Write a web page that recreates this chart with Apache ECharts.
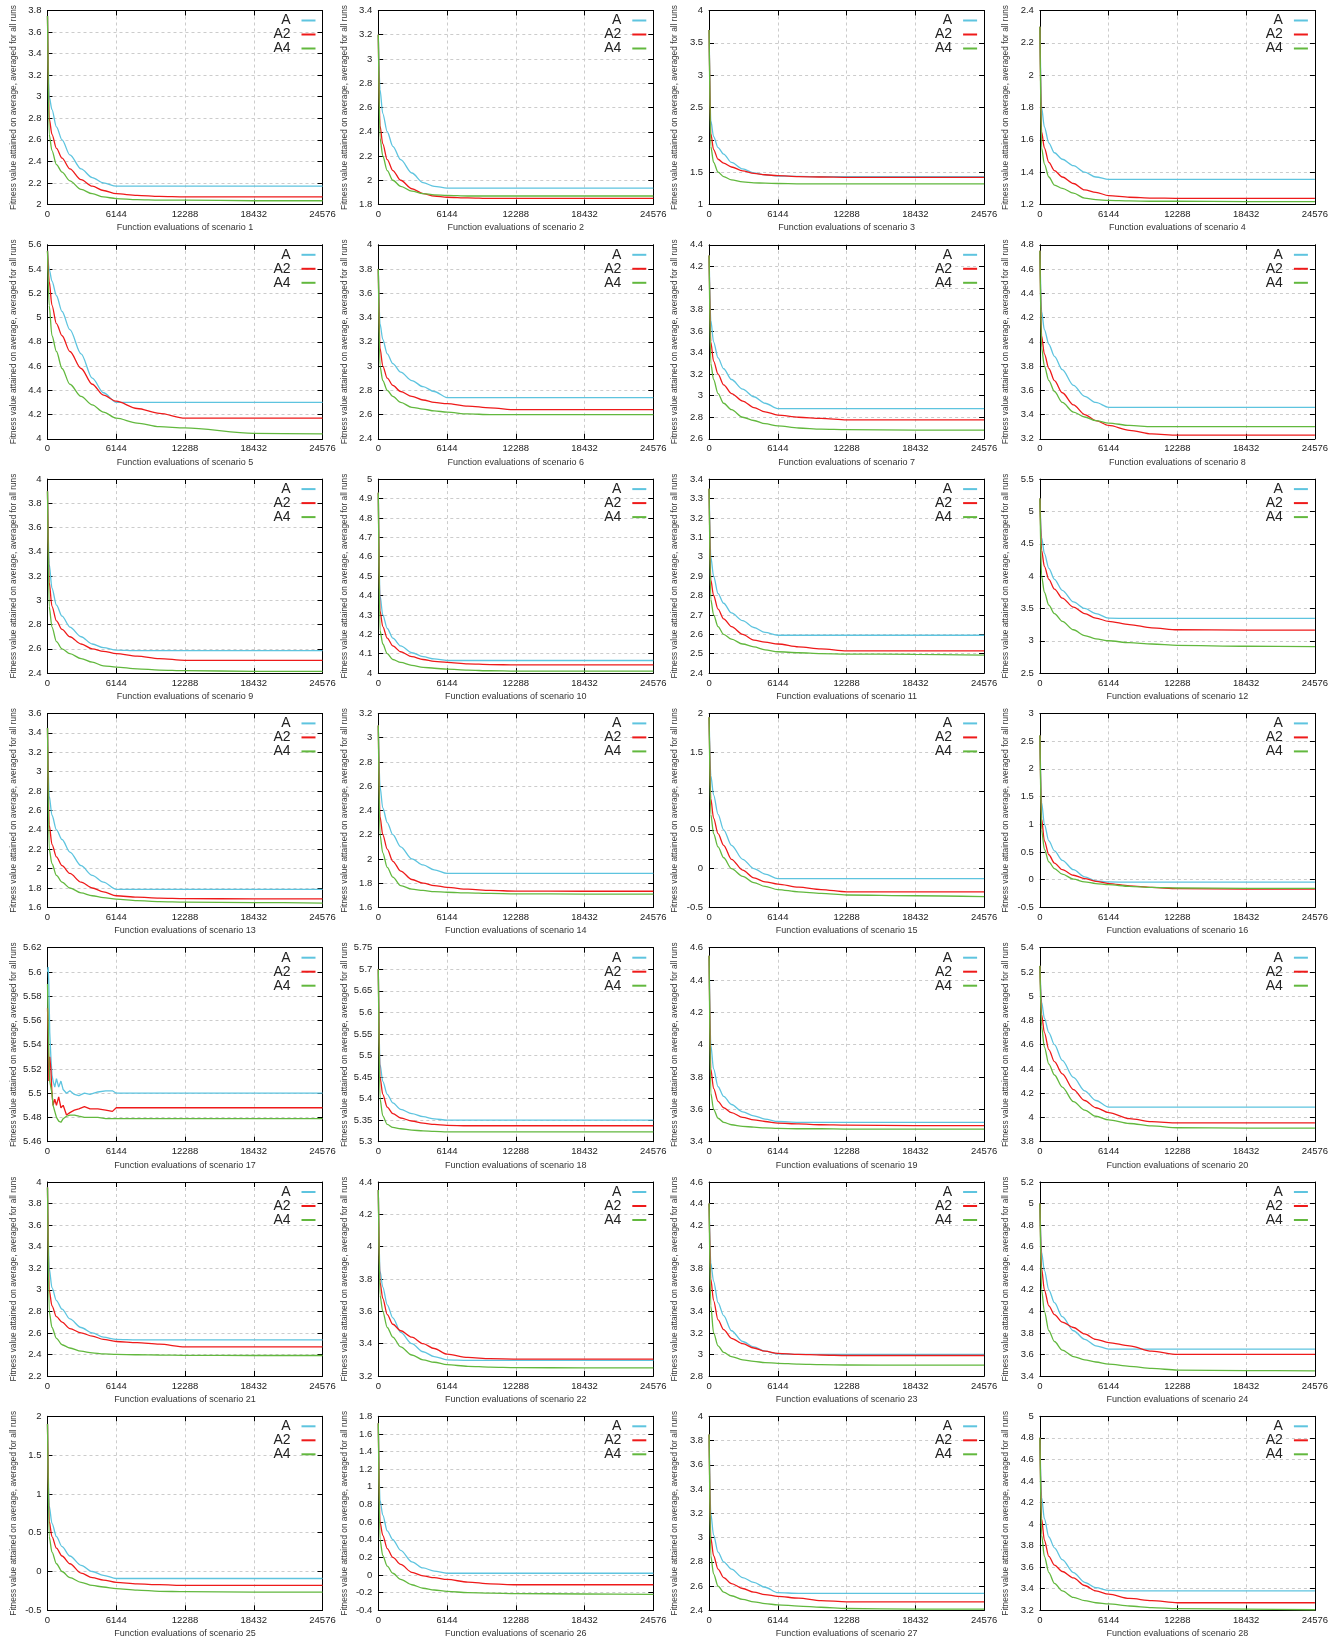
<!DOCTYPE html>
<html>
<head>
<meta charset="utf-8">
<script src="https://cdn.jsdelivr.net/npm/echarts@6/dist/echarts.min.js"></script>
<style>
  html, body { margin: 0; background: #fff; }
  #main { width: 1343px; height: 1640px; }
</style>
</head>
<body>
<div id="main"></div>
<script>
const evals = [0, 150, 400, 800, 1300, 2000, 3000, 4000, 5000, 6144, 8000, 10000, 12288, 18432, 24576];
// scenario 17 is noisy, read more densely
const evals17 = [0, 60, 120, 200, 300, 400, 500, 650, 800, 1000, 1200, 1400, 1700, 2000, 2400, 2800, 3300, 3800, 4500, 5200, 5800, 6144, 8000, 12288, 18432, 24576];

const xTicks = [0, 24576, 6144];

// y axis [min, max, interval] per scenario
const yTicks = [
  [2, 3.8, 0.2], [1.8, 3.4, 0.2], [1, 4, 0.5], [1.2, 2.4, 0.2],
  [4, 5.6, 0.2], [2.4, 4, 0.2], [2.6, 4.4, 0.2], [3.2, 4.8, 0.2],
  [2.4, 4, 0.2], [4, 5, 0.1], [2.4, 3.4, 0.1], [2.5, 5.5, 0.5],
  [1.6, 3.6, 0.2], [1.6, 3.2, 0.2], [-0.5, 2, 0.5], [-0.5, 3, 0.5],
  [5.46, 5.62, 0.02], [5.3, 5.75, 0.05], [3.4, 4.6, 0.2], [3.8, 5.4, 0.2],
  [2.2, 4, 0.2], [3.2, 4.4, 0.2], [2.8, 4.6, 0.2], [3.4, 5.2, 0.2],
  [-0.5, 2, 0.5], [-0.4, 1.8, 0.2], [2.4, 4, 0.2], [3.2, 5, 0.2]
];

const seriesNames = ['A', 'A2', 'A4'];

const valA = [
  [3.75, 3.0, 2.88, 2.72, 2.6, 2.46, 2.33, 2.25, 2.2, 2.17, 2.17, 2.17, 2.17, 2.17, 2.17],
  [3.2, 2.75, 2.55, 2.4, 2.28, 2.17, 2.06, 1.98, 1.95, 1.935, 1.935, 1.935, 1.935, 1.935, 1.935],
  [3.7, 2.3, 2.05, 1.88, 1.78, 1.65, 1.55, 1.49, 1.46, 1.44, 1.435, 1.43, 1.43, 1.43, 1.43],
  [2.3, 1.8, 1.68, 1.58, 1.52, 1.48, 1.44, 1.4, 1.37, 1.355, 1.355, 1.355, 1.355, 1.355, 1.355],
  [5.55, 5.4, 5.3, 5.18, 5.05, 4.9, 4.7, 4.5, 4.38, 4.3, 4.3, 4.3, 4.3, 4.3, 4.3],
  [3.8, 3.35, 3.22, 3.1, 3.02, 2.95, 2.88, 2.83, 2.79, 2.74, 2.74, 2.74, 2.74, 2.74, 2.74],
  [4.3, 3.7, 3.5, 3.35, 3.25, 3.15, 3.06, 2.99, 2.93, 2.88, 2.88, 2.88, 2.88, 2.88, 2.88],
  [4.75, 4.25, 4.1, 3.98, 3.88, 3.77, 3.64, 3.55, 3.5, 3.46, 3.46, 3.46, 3.46, 3.46, 3.46],
  [3.9, 3.3, 3.1, 2.96, 2.87, 2.78, 2.7, 2.64, 2.61, 2.59, 2.585, 2.585, 2.585, 2.585, 2.585],
  [4.93, 4.4, 4.3, 4.23, 4.18, 4.14, 4.105, 4.085, 4.073, 4.065, 4.065, 4.065, 4.065, 4.065, 4.065],
  [3.35, 3.0, 2.9, 2.81, 2.76, 2.71, 2.67, 2.635, 2.61, 2.595, 2.595, 2.595, 2.595, 2.595, 2.595],
  [5.2, 4.6, 4.35, 4.12, 3.95, 3.78, 3.6, 3.5, 3.42, 3.35, 3.345, 3.345, 3.345, 3.345, 3.345],
  [3.45, 2.75, 2.55, 2.4, 2.3, 2.17, 2.03, 1.93, 1.86, 1.785, 1.785, 1.785, 1.785, 1.785, 1.785],
  [3.1, 2.6, 2.42, 2.3, 2.2, 2.1, 2.0, 1.95, 1.91, 1.88, 1.88, 1.88, 1.88, 1.88, 1.88],
  [1.95, 1.2, 0.95, 0.7, 0.5, 0.3, 0.12, 0.0, -0.07, -0.13, -0.13, -0.13, -0.13, -0.13, -0.13],
  [2.6, 1.4, 1.0, 0.7, 0.52, 0.35, 0.18, 0.05, -0.02, -0.04, -0.045, -0.045, -0.045, -0.045, -0.045],
  [5.6, 5.604, 5.59, 5.55, 5.53, 5.515, 5.51, 5.505, 5.512, 5.505, 5.51, 5.503, 5.5, 5.502, 5.499, 5.498, 5.5, 5.499, 5.501, 5.502, 5.502, 5.5, 5.5, 5.5, 5.5, 5.5],
  [5.7, 5.48, 5.44, 5.41, 5.39, 5.375, 5.365, 5.358, 5.353, 5.35, 5.35, 5.35, 5.35, 5.35, 5.35],
  [4.55, 4.0, 3.85, 3.74, 3.68, 3.63, 3.585, 3.56, 3.54, 3.525, 3.52, 3.52, 3.52, 3.52, 3.52],
  [5.25, 4.95, 4.82, 4.7, 4.6, 4.47, 4.33, 4.22, 4.14, 4.085, 4.085, 4.085, 4.085, 4.085, 4.085],
  [3.95, 3.2, 3.02, 2.9, 2.82, 2.73, 2.65, 2.6, 2.56, 2.54, 2.535, 2.535, 2.535, 2.535, 2.535],
  [4.35, 3.85, 3.75, 3.64, 3.56, 3.47, 3.4, 3.35, 3.32, 3.3, 3.297, 3.297, 3.297, 3.297, 3.297],
  [4.4, 3.85, 3.68, 3.48, 3.36, 3.22, 3.12, 3.07, 3.03, 3.005, 3.0, 3.0, 3.0, 3.0, 3.0],
  [5.0, 4.55, 4.38, 4.2, 4.08, 3.95, 3.82, 3.74, 3.68, 3.65, 3.65, 3.65, 3.65, 3.65, 3.65],
  [1.9, 0.85, 0.62, 0.45, 0.32, 0.2, 0.08, 0.0, -0.05, -0.09, -0.09, -0.09, -0.09, -0.09, -0.09],
  [1.72, 0.85, 0.68, 0.5, 0.4, 0.28, 0.15, 0.08, 0.045, 0.02, 0.02, 0.02, 0.02, 0.02, 0.02],
  [3.85, 3.2, 3.02, 2.88, 2.8, 2.74, 2.67, 2.63, 2.59, 2.545, 2.54, 2.54, 2.54, 2.54, 2.54],
  [4.8, 4.25, 4.05, 3.88, 3.78, 3.67, 3.55, 3.46, 3.41, 3.385, 3.38, 3.38, 3.38, 3.38, 3.38]
];

const valA2 = [
  [3.75, 2.8, 2.65, 2.52, 2.43, 2.33, 2.23, 2.17, 2.13, 2.1, 2.085, 2.075, 2.07, 2.07, 2.07],
  [3.2, 2.45, 2.3, 2.17, 2.08, 2.0, 1.93, 1.89, 1.87, 1.86, 1.855, 1.85, 1.85, 1.85, 1.85],
  [3.7, 2.1, 1.85, 1.7, 1.64, 1.58, 1.52, 1.48, 1.46, 1.445, 1.43, 1.425, 1.42, 1.42, 1.42],
  [2.3, 1.65, 1.55, 1.46, 1.41, 1.37, 1.33, 1.29, 1.275, 1.255, 1.245, 1.24, 1.238, 1.238, 1.238],
  [5.55, 5.3, 5.1, 4.95, 4.85, 4.72, 4.58, 4.45, 4.36, 4.31, 4.25, 4.21, 4.17, 4.17, 4.17],
  [3.8, 3.15, 3.0, 2.9, 2.84, 2.79, 2.75, 2.72, 2.7, 2.69, 2.67, 2.655, 2.64, 2.64, 2.64],
  [4.3, 3.5, 3.32, 3.2, 3.1, 3.02, 2.95, 2.89, 2.85, 2.82, 2.8, 2.79, 2.775, 2.775, 2.775],
  [4.75, 4.05, 3.9, 3.78, 3.68, 3.58, 3.48, 3.4, 3.35, 3.31, 3.27, 3.24, 3.23, 3.23, 3.23],
  [3.9, 3.15, 2.95, 2.83, 2.76, 2.7, 2.64, 2.6, 2.58, 2.56, 2.54, 2.52, 2.505, 2.505, 2.505],
  [4.93, 4.32, 4.24, 4.18, 4.14, 4.11, 4.085, 4.07, 4.06, 4.055, 4.048, 4.044, 4.042, 4.042, 4.042],
  [3.35, 2.88, 2.8, 2.73, 2.68, 2.64, 2.6, 2.57, 2.56, 2.55, 2.535, 2.525, 2.515, 2.515, 2.515],
  [5.2, 4.4, 4.15, 3.95, 3.8, 3.66, 3.52, 3.42, 3.35, 3.3, 3.25, 3.2, 3.17, 3.165, 3.165],
  [3.45, 2.45, 2.25, 2.12, 2.03, 1.95, 1.86, 1.8, 1.76, 1.72, 1.705, 1.695, 1.69, 1.688, 1.688],
  [3.1, 2.35, 2.2, 2.08, 1.98, 1.9, 1.83, 1.8, 1.78, 1.765, 1.75, 1.74, 1.735, 1.733, 1.733],
  [1.95, 0.9, 0.65, 0.45, 0.3, 0.12, -0.02, -0.12, -0.17, -0.2, -0.24, -0.27, -0.3, -0.3, -0.3],
  [2.6, 1.1, 0.7, 0.45, 0.3, 0.18, 0.08, 0.02, -0.03, -0.07, -0.11, -0.14, -0.16, -0.17, -0.17],
  [5.57, 5.55, 5.51, 5.53, 5.52, 5.5, 5.49, 5.495, 5.49, 5.497, 5.488, 5.49, 5.482, 5.484, 5.486, 5.487, 5.489, 5.487, 5.487, 5.486, 5.485, 5.488, 5.488, 5.488, 5.488, 5.488],
  [5.7, 5.45, 5.41, 5.38, 5.365, 5.355, 5.348, 5.343, 5.34, 5.338, 5.337, 5.337, 5.337, 5.337, 5.337],
  [4.55, 3.85, 3.73, 3.65, 3.61, 3.58, 3.55, 3.535, 3.525, 3.515, 3.51, 3.505, 3.502, 3.5, 3.5],
  [5.25, 4.85, 4.7, 4.56, 4.46, 4.36, 4.23, 4.14, 4.08, 4.04, 3.99, 3.965, 3.955, 3.955, 3.955],
  [3.95, 3.0, 2.85, 2.75, 2.7, 2.64, 2.6, 2.57, 2.54, 2.52, 2.51, 2.495, 2.47, 2.47, 2.47],
  [4.35, 3.78, 3.68, 3.58, 3.52, 3.48, 3.44, 3.4, 3.37, 3.335, 3.315, 3.307, 3.305, 3.305, 3.305],
  [4.4, 3.7, 3.5, 3.32, 3.23, 3.15, 3.1, 3.06, 3.03, 3.01, 3.0, 2.995, 2.99, 2.99, 2.99],
  [5.0, 4.4, 4.2, 4.05, 3.97, 3.9, 3.85, 3.79, 3.74, 3.71, 3.68, 3.63, 3.6, 3.6, 3.6],
  [1.9, 0.65, 0.45, 0.3, 0.2, 0.1, -0.02, -0.08, -0.11, -0.14, -0.16, -0.17, -0.18, -0.18, -0.18],
  [1.72, 0.6, 0.45, 0.3, 0.2, 0.12, 0.03, -0.01, -0.03, -0.05, -0.08, -0.1, -0.11, -0.11, -0.11],
  [3.85, 3.0, 2.85, 2.74, 2.67, 2.62, 2.58, 2.55, 2.53, 2.515, 2.5, 2.48, 2.47, 2.47, 2.47],
  [4.8, 4.05, 3.85, 3.7, 3.62, 3.56, 3.5, 3.43, 3.38, 3.35, 3.31, 3.29, 3.27, 3.27, 3.27]
];

const valA4 = [
  [3.75, 2.65, 2.5, 2.37, 2.3, 2.22, 2.14, 2.1, 2.07, 2.055, 2.045, 2.04, 2.04, 2.035, 2.035],
  [3.2, 2.35, 2.2, 2.08, 2.0, 1.95, 1.91, 1.89, 1.88, 1.875, 1.87, 1.87, 1.87, 1.87, 1.87],
  [3.7, 1.9, 1.65, 1.5, 1.43, 1.38, 1.35, 1.335, 1.33, 1.325, 1.32, 1.32, 1.32, 1.32, 1.32],
  [2.3, 1.55, 1.45, 1.37, 1.32, 1.3, 1.27, 1.24, 1.23, 1.225, 1.222, 1.22, 1.22, 1.218, 1.218],
  [5.55, 5.1, 4.85, 4.72, 4.58, 4.45, 4.35, 4.28, 4.22, 4.17, 4.13, 4.1, 4.09, 4.045, 4.04],
  [3.8, 3.0, 2.88, 2.8, 2.75, 2.7, 2.66, 2.645, 2.63, 2.62, 2.605, 2.6, 2.6, 2.6, 2.6],
  [4.3, 3.3, 3.15, 3.02, 2.93, 2.87, 2.8, 2.77, 2.74, 2.72, 2.7, 2.69, 2.685, 2.68, 2.68],
  [4.75, 3.95, 3.8, 3.68, 3.59, 3.5, 3.42, 3.38, 3.35, 3.33, 3.31, 3.3, 3.3, 3.3, 3.3],
  [3.9, 2.95, 2.78, 2.66, 2.6, 2.56, 2.52, 2.49, 2.46, 2.45, 2.435, 2.425, 2.42, 2.415, 2.415],
  [4.93, 4.22, 4.15, 4.1, 4.07, 4.055, 4.04, 4.03, 4.025, 4.02, 4.015, 4.012, 4.01, 4.01, 4.01],
  [3.35, 2.78, 2.7, 2.64, 2.6, 2.575, 2.55, 2.535, 2.52, 2.51, 2.505, 2.5, 2.498, 2.497, 2.493],
  [5.2, 4.0, 3.75, 3.55, 3.42, 3.3, 3.17, 3.08, 3.03, 3.0, 2.97, 2.95, 2.93, 2.915, 2.91],
  [3.45, 2.2, 2.05, 1.93, 1.86, 1.8, 1.75, 1.72, 1.7, 1.685, 1.67, 1.66, 1.655, 1.65, 1.645],
  [3.1, 2.2, 2.05, 1.93, 1.85, 1.78, 1.75, 1.74, 1.73, 1.725, 1.72, 1.715, 1.712, 1.71, 1.71],
  [1.95, 0.7, 0.45, 0.28, 0.14, 0.0, -0.1, -0.18, -0.23, -0.27, -0.3, -0.32, -0.34, -0.35, -0.36],
  [2.6, 0.9, 0.55, 0.32, 0.2, 0.1, 0.01, -0.04, -0.07, -0.09, -0.12, -0.14, -0.15, -0.155, -0.155],
  [5.59, 5.56, 5.53, 5.51, 5.505, 5.5, 5.49, 5.485, 5.48, 5.477, 5.476, 5.479, 5.481, 5.482, 5.482, 5.481, 5.48, 5.48, 5.48, 5.479, 5.479, 5.479, 5.479, 5.479, 5.479, 5.479],
  [5.7, 5.4, 5.36, 5.34, 5.333, 5.33, 5.327, 5.325, 5.324, 5.323, 5.323, 5.323, 5.323, 5.323, 5.323],
  [4.55, 3.7, 3.6, 3.545, 3.52, 3.505, 3.495, 3.49, 3.485, 3.482, 3.48, 3.48, 3.478, 3.478, 3.478],
  [5.25, 4.75, 4.58, 4.44, 4.35, 4.25, 4.13, 4.06, 4.01, 3.98, 3.95, 3.93, 3.915, 3.912, 3.912],
  [3.95, 2.8, 2.65, 2.55, 2.49, 2.46, 2.43, 2.415, 2.405, 2.4, 2.397, 2.395, 2.392, 2.39, 2.39],
  [4.35, 3.7, 3.6, 3.5, 3.44, 3.38, 3.33, 3.3, 3.285, 3.27, 3.26, 3.255, 3.252, 3.25, 3.25],
  [4.4, 3.45, 3.2, 3.08, 3.02, 2.98, 2.95, 2.935, 2.925, 2.918, 2.91, 2.905, 2.902, 2.9, 2.9],
  [5.0, 4.2, 4.0, 3.82, 3.72, 3.64, 3.58, 3.55, 3.53, 3.51, 3.49, 3.47, 3.455, 3.45, 3.448],
  [1.9, 0.45, 0.25, 0.1, 0.0, -0.08, -0.14, -0.18, -0.2, -0.22, -0.24, -0.255, -0.26, -0.265, -0.265],
  [1.72, 0.4, 0.22, 0.1, 0.02, -0.05, -0.11, -0.15, -0.17, -0.185, -0.2, -0.205, -0.21, -0.215, -0.22],
  [3.85, 2.85, 2.7, 2.6, 2.55, 2.52, 2.49, 2.47, 2.455, 2.445, 2.435, 2.425, 2.415, 2.41, 2.41],
  [4.8, 3.9, 3.7, 3.55, 3.45, 3.38, 3.32, 3.29, 3.27, 3.26, 3.24, 3.225, 3.215, 3.21, 3.205]
];

const lineColors = ['#5ec4df', '#ee1a1a', '#62b83e'];
const font = "'Liberation Sans', Arial, sans-serif";

var myChart = echarts.init(document.getElementById('main'));

const grids = [], xAxes = [], yAxes = [], series = [], legends = [];
const allVals = [valA, valA2, valA4];

for (let p = 0; p < 28; p++) {
  const r = Math.floor(p / 4), c = p % 4;
  const gl = 47.5 + 330.8 * c;
  const gt = 10.5 + 234.3 * r;
  const [ymin, ymax, yint] = yTicks[p];
  const tick = { show: true, inside: true, length: 5, lineStyle: { color: '#000', width: 1 } };
  const line = { show: true, onZero: false, lineStyle: { color: '#000', width: 1 } };

  grids.push({ left: gl, top: gt, width: 275, height: 194 });

  // bottom + mirrored top x axis
  xAxes.push({
    type: 'value', gridIndex: p, position: 'bottom',
    min: xTicks[0], max: xTicks[1], interval: xTicks[2],
    name: 'Function evaluations of scenario ' + (p + 1),
    nameLocation: 'middle', nameGap: 19,
    nameTextStyle: { fontSize: 9, color: '#333', fontFamily: font },
    axisLine: line, axisTick: tick,
    axisLabel: { fontSize: 9.5, color: '#222', margin: 5, fontFamily: font, showMinLabel: true, showMaxLabel: true,
      formatter: v => String(v) },
    splitLine: { show: true, lineStyle: { type: [3, 3], color: '#cccccc', width: 1 } }
  });
  xAxes.push({
    type: 'value', gridIndex: p, position: 'top',
    min: xTicks[0], max: xTicks[1], interval: xTicks[2],
    axisLine: line, axisTick: tick, axisLabel: { show: false }, splitLine: { show: false }
  });

  // left + mirrored right y axis
  yAxes.push({
    type: 'value', gridIndex: p, position: 'left',
    min: ymin, max: ymax, interval: yint,
    name: 'Fitness value attained on average, averaged for all runs',
    nameLocation: 'middle', nameRotate: 90, nameGap: 30,
    nameTextStyle: { fontSize: 8.3, color: '#333', fontFamily: font },
    axisLine: line, axisTick: tick,
    axisLabel: { fontSize: 9.5, color: '#222', margin: 6, fontFamily: font, showMinLabel: true, showMaxLabel: true },
    splitLine: { show: true, lineStyle: { type: [3, 3], color: '#cccccc', width: 1 } }
  });
  yAxes.push({
    type: 'value', gridIndex: p, position: 'right',
    min: ymin, max: ymax, interval: yint,
    axisLine: line, axisTick: tick, axisLabel: { show: false }, splitLine: { show: false }
  });

  const xs = p === 16 ? evals17 : evals;
  seriesNames.forEach((name, k) => {
    const vals = allVals[k][p];
    series.push({
      name: name, type: 'line',
      xAxisIndex: 2 * p, yAxisIndex: 2 * p,
      data: xs.map((x, i) => [x, vals[i]]),
      showSymbol: false, symbol: 'none',
      smooth: p === 16 ? false : 0.3, smoothMonotone: 'x',
      color: lineColors[k],
      lineStyle: { color: lineColors[k], width: 1.3 },
      z: 3 + k
    });
  });

  legends.push({
    orient: 'vertical', left: gl + 219, top: gt + 3, padding: 0,
    icon: 'rect', itemWidth: 14, itemHeight: 2, itemGap: 0,
    align: 'right', selectedMode: false,
    textStyle: { fontSize: 14, color: '#222', width: 24, align: 'right', lineHeight: 12.6,
      padding: [0, 6, 0, 0], fontFamily: font },
    data: seriesNames
  });
}

myChart.setOption({
  animation: false,
  backgroundColor: '#fff',
  textStyle: { fontFamily: font },
  grid: grids,
  xAxis: xAxes,
  yAxis: yAxes,
  legend: legends,
  series: series
});
</script>
</body>
</html>
